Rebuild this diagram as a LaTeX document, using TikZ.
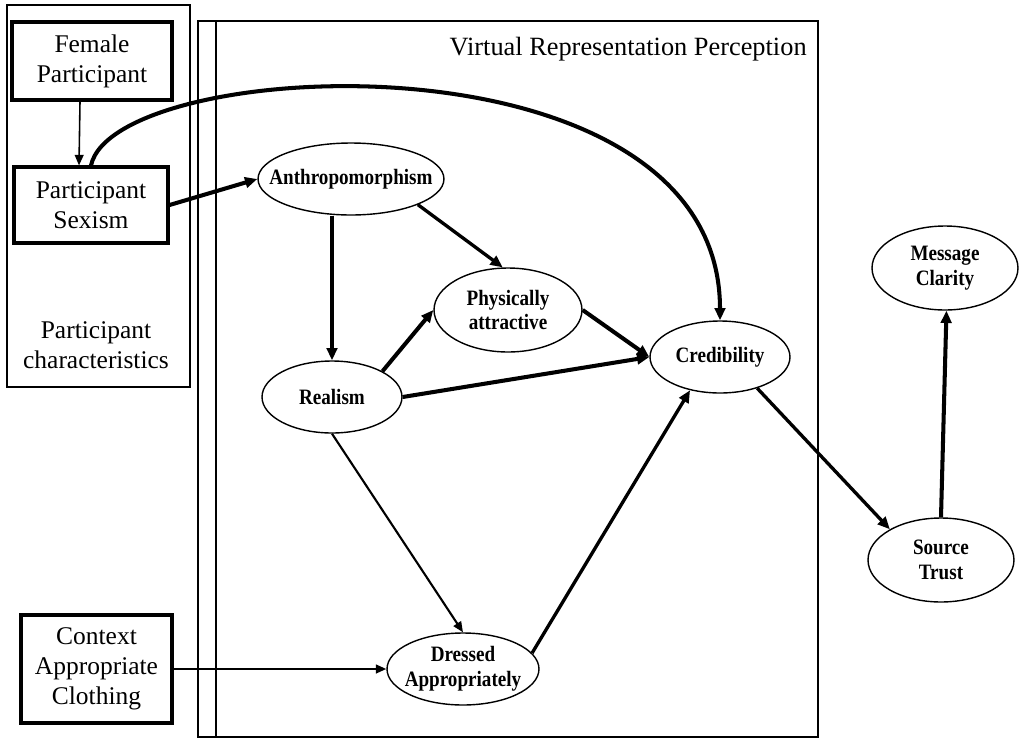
\documentclass[tikz,border=0pt]{standalone}
\usepackage{fontspec}
\setmainfont{Liberation Serif}
\usetikzlibrary{arrows.meta,shapes.geometric}

\tikzset{
	factor/.style={draw,line width=1.8pt,align=center,inner sep=0pt,
		font=\fontsize{14.5}{17}\selectfont},
	latent/.style={draw,ellipse,line width=0.8pt,inner sep=0pt},
	lattext/.style={align=center,inner sep=0pt,xscale=0.87,transform shape,
		font=\fontsize{12.5}{14}\selectfont\bfseries},
	heavy/.style={line width=2.3pt,-{Triangle[length=7pt,width=6pt]}},
	medium/.style={line width=1.9pt,-{Triangle[length=7pt,width=6pt]}},
	light/.style={line width=1.2pt,-{Triangle[length=6pt,width=5pt]}}
}

\begin{document}
\begin{tikzpicture}[x=0.02cm,y=-0.02cm]
		\useasboundingbox (0,0) rectangle (1019,738);

		% Frames
		\draw[line width=0.6pt] (7,5) rectangle (190,387);
		\draw[line width=0.6pt] (198,21) rectangle (818,737);
		\draw[line width=0.6pt] (216,21) -- (216,737);
		\node[anchor=base east,inner sep=0pt,font=\fontsize{15}{17}\selectfont] (vrp) at (807,55) {Virtual Representation Perception};
		\node[align=center,inner sep=0pt,font=\fontsize{14.5}{17}\selectfont] (pc) at (96,345) {Participant\\characteristics};

		% Observed factors
		\node[factor,minimum width=3.2cm,minimum height=1.56cm] (fem) at (92,61) {Female\\Participant};
		\node[factor,minimum width=3.08cm,minimum height=1.52cm] (sex) at (91,205) {Participant\\Sexism};
		\node[factor,minimum width=3.02cm,minimum height=2.16cm] (ctx) at (96.5,669) {Context\\Appropriate\\Clothing};

		% Perception ellipses
		\node[latent,minimum width=3.72cm,minimum height=1.44cm,label={[lattext]center:Anthropomorphism}] (anth) at (351,179) {};
		\node[latent,minimum width=2.96cm,minimum height=1.68cm,label={[lattext]center:Physically\\attractive}] (phys) at (508,310) {};
		\node[latent,minimum width=2.8cm,minimum height=1.44cm,label={[lattext]center:Realism}] (real) at (332,397) {};
		\node[latent,minimum width=2.8cm,minimum height=1.44cm,label={[lattext]center:Credibility}] (cred) at (720,357) {};
		\node[latent,minimum width=3.04cm,minimum height=1.44cm,label={[lattext]center:Dressed\\Appropriately}] (dres) at (463,669) {};

		% Outcomes
		\node[latent,minimum width=2.92cm,minimum height=1.68cm,label={[lattext]center:Source\\Trust}] (src) at (941,560) {};
		\node[latent,minimum width=2.92cm,minimum height=1.68cm,label={[lattext]center:Message\\Clarity}] (msg) at (945,268) {};

		% Paths
		\draw[light,line width=0.9pt] ([xshift=-0.24cm]fem.south) -- ([xshift=-0.24cm]sex.north);
		\draw[heavy] (sex.east) -- (anth.west);
		\draw[heavy] (sex.north) .. controls (115,55) and (720,25) .. (cred.north);
		\draw[medium] (anth.south -| real.north) -- (real.north);
		\draw[medium] (anth.-21) -- (phys.97);
		\draw[heavy] (real.27) -- (phys.west);
		\draw[heavy] (phys.east) -- (cred.west);
		\draw[heavy] (real.east) -- (cred.west);
		\draw[light] (real.south) -- (dres.north);
		\draw[light] (ctx.east) -- (dres.west);
		\draw[medium] (dres.13) -- (cred.-132);
		\draw[medium] (cred.-40) -- (src.149);
		\draw[heavy] (src.north) -- (msg.-88);
\end{tikzpicture}
\end{document}
